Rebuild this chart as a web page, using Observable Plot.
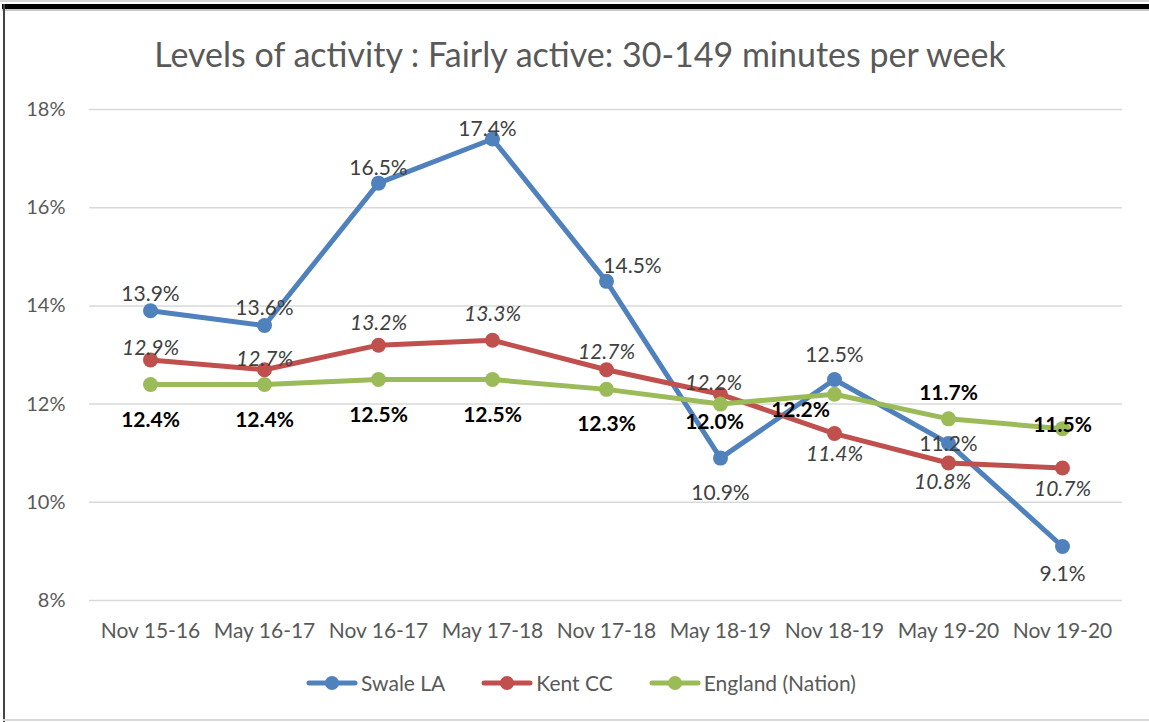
<!DOCTYPE html>
<html><head><meta charset="utf-8">
<script src="https://cdn.jsdelivr.net/npm/d3@7"></script>
<script src="https://cdn.jsdelivr.net/npm/@observablehq/plot@0.6"></script>
<style>
body{margin:0;background:#fff;font-family:Lato,"Open Sans",sans-serif;}
#wrap{position:relative;width:1149px;height:722px;overflow:hidden;background:#fff;}
.fr-top0{position:absolute;left:0;right:0;top:0;height:2px;background:#d6d6d6;}
.fr-top{position:absolute;left:2px;right:0;top:4px;height:5px;background:#000;}
.fr-top2{position:absolute;left:2px;right:0;top:9px;height:2px;background:#c8c8c8;}
.fr-left{position:absolute;left:3px;top:4px;width:2px;bottom:0;background:#444;}
.fr-bot{position:absolute;left:3px;right:0;bottom:1px;height:2px;background:#d9d9d9;}
.title{position:absolute;top:33px;left:0;width:1160px;text-align:center;font-size:34px;color:#595959;}
#chart{position:absolute;top:80px;left:0;}
#legend{position:absolute;top:670px;left:0;width:1162px;display:flex;justify-content:center;align-items:center;gap:36px;font-size:21px;color:#595959;}
#legend .it{display:flex;align-items:center;gap:3px;}
</style></head>
<body>
<div id="wrap">
  <div class="fr-top0"></div><div class="fr-top"></div><div class="fr-top2"></div>
  <div class="fr-left"></div><div class="fr-bot"></div>
  <div class="title">Levels of activity : Fairly active: 30-149 minutes per week</div>
  <div id="chart"></div>
  <div id="legend"></div>
</div>
<script>
const categories = ["Nov 15-16","May 16-17","Nov 16-17","May 17-18","Nov 17-18","May 18-19","Nov 18-19","May 19-20","Nov 19-20"];
const seriesNames = ["Swale LA","Kent CC","England (Nation)"];
const swale   = [13.9, 13.6, 16.5, 17.4, 14.5, 10.9, 12.5, 11.2, 9.1];
const kent    = [12.9, 12.7, 13.2, 13.3, 12.7, 12.2, 11.4, 10.8, 10.7];
const england = [12.4, 12.4, 12.5, 12.5, 12.3, 12.0, 12.2, 11.7, 11.5];
const yTicks  = [8, 10, 12, 14, 16, 18];

// styling / label placement (not data)
const colors = {"Swale LA":"#4f81bd","Kent CC":"#c0504d","England (Nation)":"#9bbb59"};
const labelOffsets = {
  "Swale LA":        [[0,-17],[0,-17],[0,-15],[-5,-10],[26,-15],[0,35],[0,-24],[0,1],[0,28]],
  "Kent CC":         [[0,-12],[0,-10],[0,-22],[0,-26],[0,-17],[-7,-11],[0,21],[-6,19],[0,21]],
  "England (Nation)":[[0,36],[0,36],[0,36],[0,36],[0,35],[-6,18],[-34,16],[0,-26],[0,-3]]
};
const labelStyle = {
  "Swale LA":        {fill:"#404040", fontStyle:"normal", fontWeight:"normal"},
  "Kent CC":         {fill:"#404040", fontStyle:"italic", fontWeight:"normal"},
  "England (Nation)":{fill:"#000000", fontStyle:"normal", fontWeight:"bold"}
};

const valuesBySeries = {"Swale LA": swale, "Kent CC": kent, "England (Nation)": england};
const rows = seriesNames.flatMap(s => categories.map((c, i) => ({series: s, cat: c, value: valuesBySeries[s][i], i})));

const fmtPct = d => d.toFixed(1) + "%";

const marks = [
  Plot.ruleY(yTicks, {stroke: "#d9d9d9", strokeWidth: 1.5}),
  Plot.axisY(yTicks, {tickSize: 0, tickPadding: 24, tickFormat: d => d + "%", fontSize: 20, fill: "#595959", label: null}),
  Plot.axisX({tickSize: 0, tickPadding: 23, fontSize: 21, fill: "#595959", label: null})
];
for (const s of seriesNames) {
  const data = rows.filter(r => r.series === s);
  marks.push(Plot.line(data, {x: "cat", y: "value", stroke: colors[s], strokeWidth: 5, strokeLinejoin: "round", strokeLinecap: "round"}));
  marks.push(Plot.dot(data, {x: "cat", y: "value", r: 7.5, fill: colors[s], stroke: "none"}));
}
for (const s of seriesNames) {
  const data = rows.filter(r => r.series === s);
  const st = labelStyle[s];
  data.forEach(d => {
    const [dx, dy] = labelOffsets[s][d.i];
    marks.push(Plot.text([d], {x: "cat", y: "value", text: r => fmtPct(r.value), dx, dy,
      fontSize: 21, fill: st.fill, fontStyle: st.fontStyle, fontWeight: st.fontWeight, textAnchor: "middle", lineAnchor: "middle"}));
  });
}

const chart = Plot.plot({
  width: 1149,
  height: 575,
  marginLeft: 89,
  marginRight: 27,
  marginTop: 29,
  marginBottom: 55,
  style: {fontFamily: "Lato, 'Open Sans', sans-serif", background: "transparent", overflow: "visible"},
  x: {type: "point", domain: categories, padding: 0.5},
  y: {domain: [8, 18]},
  marks
});
document.getElementById("chart").appendChild(chart);

const legend = document.getElementById("legend");
for (const s of seriesNames) {
  const it = document.createElement("div");
  it.className = "it";
  it.innerHTML = `<svg width="52" height="16"><line x1="3" x2="49" y1="8" y2="8" stroke="${colors[s]}" stroke-width="5" stroke-linecap="round"/><circle cx="26" cy="8" r="7" fill="${colors[s]}"/></svg><span>${s}</span>`;
  legend.appendChild(it);
}
</script>
</body></html>
